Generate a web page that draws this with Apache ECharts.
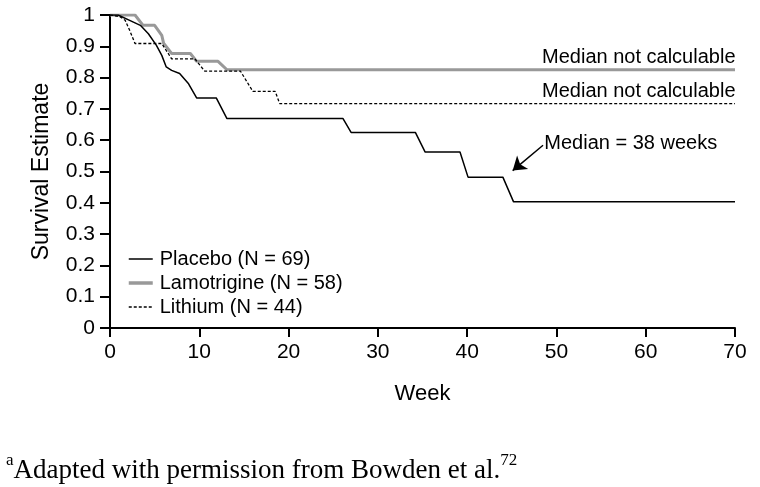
<!DOCTYPE html>
<html>
<head>
<meta charset="utf-8">
<script src="https://cdn.jsdelivr.net/npm/echarts@6/dist/echarts.min.js"></script>
<style>html,body{margin:0;padding:0;background:#fff}#c{width:760px;height:487px}</style>
</head>
<body>
<div id="c"></div>
<script>
// Data (week, survival estimate)
const seriesNames = ['Placebo (N = 69)', 'Lamotrigine (N = 58)', 'Lithium (N = 44)'];
const placebo = [[0,1],[0.9,1],[2.2,0.983],[2.8,0.975],[3.4,0.967],[4.3,0.94],[5.2,0.903],[5.8,0.871],[6.3,0.834],[6.9,0.823],[7.8,0.813],[8.8,0.78],[9.7,0.735],[11.9,0.735],[13.1,0.669],[26.1,0.669],[27.0,0.625],[34.2,0.625],[35.3,0.562],[39.2,0.562],[40.1,0.482],[44.0,0.482],[45.2,0.403],[70,0.403]];
const lamotrigine = [[0,1],[2.8,1],[3.7,0.967],[5.0,0.967],[5.8,0.935],[6.0,0.91],[6.9,0.877],[9.0,0.877],[9.7,0.852],[12.1,0.852],[13.1,0.825],[70,0.825]];
const lithium = [[0,1],[1.1,0.995],[1.7,0.983],[2.2,0.951],[2.8,0.909],[5.8,0.909],[6.9,0.86],[9.5,0.86],[10.6,0.821],[14.6,0.821],[16.0,0.756],[18.5,0.756],[19.0,0.717],[70,0.717]];
const xTicks = {min: 0, max: 70, interval: 10};
const yTicks = {min: 0, max: 1, interval: 0.1};
const annotations = ['Median not calculable', 'Median not calculable', 'Median = 38 weeks'];
const medianArrow = [[48.5, 0.584], [45.1, 0.503]];
const footnote = ['a', 'Adapted with permission from Bowden et al.', '72'];

const SANS = '"Liberation Sans", Arial, Helvetica, sans-serif';
const SERIF = '"Liberation Serif", "Times New Roman", serif';
const chart = echarts.init(document.getElementById('c'));

function noteLabel(text, coord, opts) {
  return {
    coord: coord, symbol: 'circle', symbolSize: 1, itemStyle: {color: 'rgba(0,0,0,0)'},
    label: Object.assign({show: true, formatter: text, color: '#000', fontFamily: SANS, fontSize: 20, position: [0, 0]}, opts)
  };
}

chart.setOption({
  animation: false,
  backgroundColor: '#fff',
  grid: {left: 110, right: 25, top: 15, bottom: 159, containLabel: false, outerBoundsMode: 'none'},
  legend: {
    orient: 'vertical', left: 122, top: 244, itemWidth: 24, itemHeight: 14, itemGap: 4,
    data: [
      {name: seriesNames[0], lineStyle: {width: 1.5, color: '#000'}},
      {name: seriesNames[1], lineStyle: {width: 3.5, color: '#999999'}},
      {name: seriesNames[2], lineStyle: {width: 1.3, color: '#000', type: [3, 2]}}
    ],
    itemStyle: {opacity: 0, borderWidth: 0},
    textStyle: {fontFamily: SANS, fontSize: 20, color: '#000', lineHeight: 20, padding: [0, 0, 0, 2]}
  },
  xAxis: {
    type: 'value', min: xTicks.min, max: xTicks.max, interval: xTicks.interval,
    name: 'Week', nameLocation: 'middle', nameGap: 55,
    nameTextStyle: {fontFamily: SANS, fontSize: 22, color: '#000'},
    axisLine: {show: true, onZero: false, lineStyle: {color: '#000', width: 2}},
    axisTick: {show: true, length: 9, lineStyle: {color: '#000', width: 2}},
    axisLabel: {fontFamily: SANS, fontSize: 21, color: '#000', margin: 14},
    splitLine: {show: false}
  },
  yAxis: {
    type: 'value', min: yTicks.min, max: yTicks.max, interval: yTicks.interval,
    name: 'Survival Estimate', nameLocation: 'middle', nameGap: 57,
    nameTextStyle: {fontFamily: SANS, fontSize: 23, color: '#000'},
    axisLine: {show: true, onZero: false, lineStyle: {color: '#000', width: 2}},
    axisTick: {show: true, length: 10, lineStyle: {color: '#000', width: 2}},
    axisLabel: {fontFamily: SANS, fontSize: 21, color: '#000', margin: 15},
    splitLine: {show: false}
  },
  series: [
    {
      name: seriesNames[0], type: 'line', data: placebo, symbol: 'none', z: 4,
      lineStyle: {color: '#000', width: 1.5}, itemStyle: {color: '#000'},
      markLine: {
        silent: true, symbol: ['none', 'arrow'], symbolSize: 13,
        itemStyle: {color: '#000', opacity: 1},
        lineStyle: {color: '#000', width: 1.5, type: 'solid'}, label: {show: false},
        data: [[{coord: medianArrow[0], symbol: 'none'}, {coord: medianArrow[1], symbol: 'arrow', symbolSize: 13}]]
      },
      markPoint: {
        silent: true,
        data: [noteLabel(annotations[2], [48.7, 0.589], {align: 'left', verticalAlign: 'middle'})]
      }
    },
    {
      name: seriesNames[1], type: 'line', data: lamotrigine, symbol: 'none', z: 3,
      lineStyle: {color: '#999999', width: 3}, itemStyle: {color: '#999999'},
      markPoint: {
        silent: true,
        data: [noteLabel(annotations[0], [70, 0.825], {align: 'right', verticalAlign: 'bottom', offset: [1, -2]})]
      }
    },
    {
      name: seriesNames[2], type: 'line', data: lithium, symbol: 'none', z: 5,
      lineStyle: {color: '#000', width: 1.3, type: [3, 2]}, itemStyle: {color: '#000'},
      markPoint: {
        silent: true,
        data: [noteLabel(annotations[1], [70, 0.717], {align: 'right', verticalAlign: 'bottom', offset: [1, -2]})]
      }
    }
  ],
  graphic: [{
    type: 'text', left: 6, top: 452,
    style: {
      text: '{sup|' + footnote[0] + '}{main|' + footnote[1] + '}{sup|' + footnote[2] + '}',
      rich: {
        main: {fontFamily: SERIF, fontSize: 27, color: '#000', lineHeight: 32, verticalAlign: 'bottom'},
        sup: {fontFamily: SERIF, fontSize: 17, color: '#000', lineHeight: 32, verticalAlign: 'top'}
      }
    }
  }]
});
</script>
</body>
</html>
